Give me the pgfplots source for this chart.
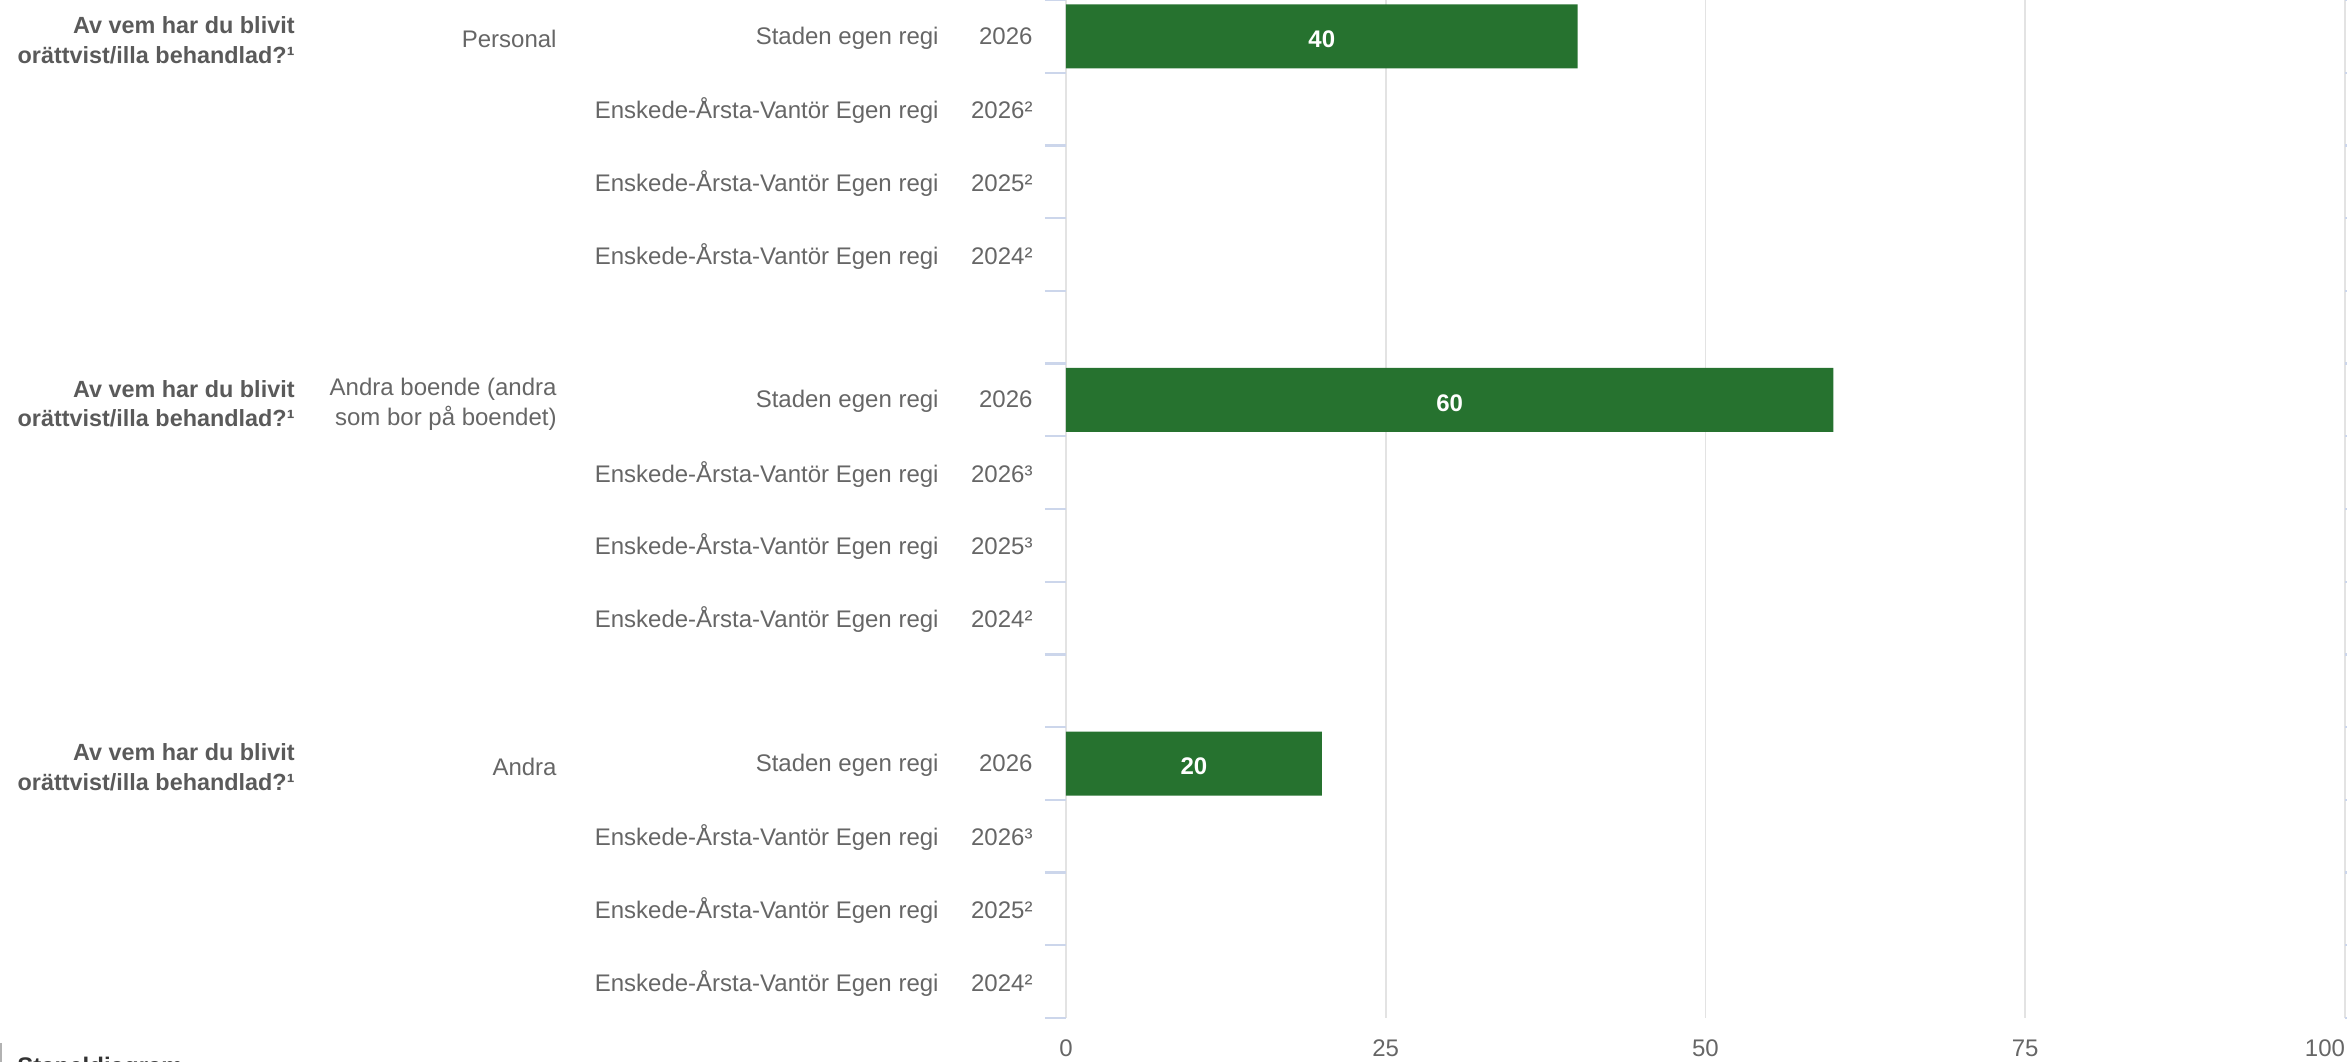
\documentclass[border=0pt]{standalone}
\usepackage{pgfplots}
\pgfplotsset{compat=1.18}
\usepackage{fontspec}
\setmainfont{Liberation Sans}
\definecolor{lab}{HTML}{666666}
\definecolor{labb}{HTML}{5A5A5A}
\definecolor{barg}{HTML}{26722F}
\definecolor{tickc}{HTML}{CCD6EB}
\definecolor{gridc}{HTML}{E3E3E3}
\newcommand{\yr}[2]{#1\makebox[47pt][r]{#2}}
\begin{document}
\begin{tikzpicture}
\begin{axis}[
  at={(0,0)}, anchor=south west,
  scale only axis, width=639.5pt, height=509pt,
  xmin=0, xmax=100, ymin=-0.5, ymax=13.5, y dir=reverse,
  clip=false,
  axis line style={draw=none},
  xtick={0,25,50,75,100},
  xticklabels={0,25,50,75,\llap{100}},
  xmajorgrids, grid style={gridc, line width=0.8pt},
  major tick length=0pt,
  minor tick length=10.5pt,
  tick align=outside,
  ytick={0,1,2,3,4,5,6,7,8,9,10,11,12,13},
  minor ytick={-0.5,0.5,1.5,2.5,3.5,4.5,5.5,6.5,7.5,8.5,9.5,10.5,11.5,12.5,13.5},
  minor y tick style={draw=tickc, line width=1.2pt},
  yticklabels={
    \yr{Staden egen regi}{2026},
    \yr{Enskede-Årsta-Vantör Egen regi}{2026²},
    \yr{Enskede-Årsta-Vantör Egen regi}{2025²},
    \yr{Enskede-Årsta-Vantör Egen regi}{2024²},
    {},
    \yr{Staden egen regi}{2026},
    \yr{Enskede-Årsta-Vantör Egen regi}{2026³},
    \yr{Enskede-Årsta-Vantör Egen regi}{2025³},
    \yr{Enskede-Årsta-Vantör Egen regi}{2024²},
    {},
    \yr{Staden egen regi}{2026},
    \yr{Enskede-Årsta-Vantör Egen regi}{2026³},
    \yr{Enskede-Årsta-Vantör Egen regi}{2025²},
    \yr{Enskede-Årsta-Vantör Egen regi}{2024²}},
  yticklabel style={font=\fontsize{12}{14.4}\selectfont, text=lab, anchor=east, inner sep=0pt, xshift=-16.5pt, yshift=-0.8pt},
  xticklabel style={font=\fontsize{12}{14.4}\selectfont, text=lab, anchor=center, inner sep=0pt, yshift=-15pt},
  /pgf/number format/assume math mode=true,
]
\addplot[xbar, bar width=0.88, fill=barg, draw=none] coordinates {(40,0) (60,5) (20,10)};
\addplot[draw=none, mark=none, nodes near coords, point meta=explicit symbolic,
  every node near coord/.style={anchor=center, text=white, yshift=-1.5pt, font=\bfseries\fontsize{12}{14.4}\selectfont}]
  coordinates {(20,0) [40] (30,5) [60] (10,10) [20]};
\node[anchor=east, align=right, inner sep=0pt, font=\bfseries\fontsize{11.7}{14.8}\selectfont, text=labb] at (axis cs:0,0) [xshift=-385.5pt, yshift=-2pt] {Av vem har du blivit\\orättvist/illa behandlad?¹};
\node[anchor=east, align=right, inner sep=0pt, font=\bfseries\fontsize{11.7}{14.8}\selectfont, text=labb] at (axis cs:0,5) [xshift=-385.5pt, yshift=-2pt] {Av vem har du blivit\\orättvist/illa behandlad?¹};
\node[anchor=east, align=right, inner sep=0pt, font=\bfseries\fontsize{11.7}{14.8}\selectfont, text=labb] at (axis cs:0,10) [xshift=-385.5pt, yshift=-2pt] {Av vem har du blivit\\orättvist/illa behandlad?¹};
\node[anchor=east, align=right, inner sep=0pt, font=\fontsize{12}{15}\selectfont, text=lab] at (axis cs:0,0) [xshift=-254.5pt, yshift=-1.5pt] {Personal};
\node[anchor=east, align=right, inner sep=0pt, font=\fontsize{12}{15}\selectfont, text=lab] at (axis cs:0,5) [xshift=-254.5pt, yshift=-2pt] {Andra boende (andra\\som bor på boendet)};
\node[anchor=east, align=right, inner sep=0pt, font=\fontsize{12}{15}\selectfont, text=lab] at (axis cs:0,10) [xshift=-254.5pt, yshift=-1.5pt] {Andra};
\end{axis}
\draw[gray!60, line width=0.6pt] (-532.5pt,-12.5pt) -- (-532.5pt,-22pt);
\node[anchor=north west, inner sep=0pt, font=\bfseries\fontsize{12}{14}\selectfont, text=black!80] at (-524.5pt,-19.5pt) {Stapeldiagram};
\pgfresetboundingbox
\path[use as bounding box] (-533pt,-21.5pt) rectangle (640.5pt,509pt);
\end{tikzpicture}
\end{document}
